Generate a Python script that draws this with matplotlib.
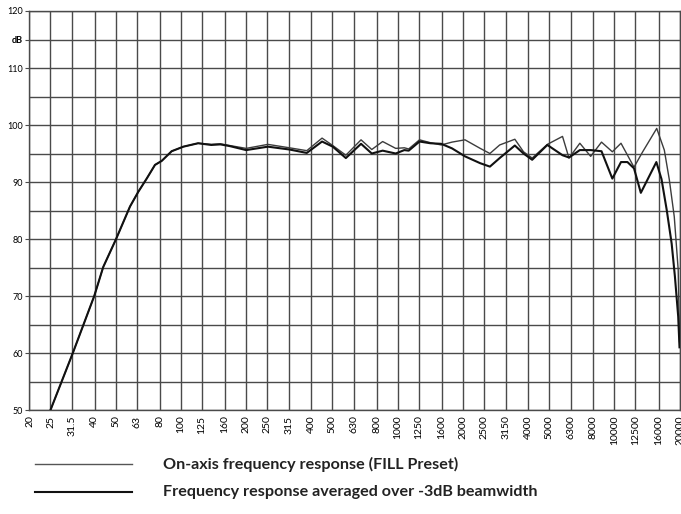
import matplotlib.pyplot as plt
from matplotlib.lines import Line2D

# third-octave bands shown on the x axis
band_freqs = [20, 25, 31.5, 40, 50, 63, 80, 100, 125, 160, 200, 250, 315, 400,
              500, 630, 800, 1000, 1250, 1600, 2000, 2500, 3150, 4000, 5000,
              6300, 8000, 10000, 12500, 16000, 20000]
band_labels = ["20", "25", "31.5", "40", "50", "63", "80", "100", "125", "160",
               "200", "250", "315", "400", "500", "630", "800", "1000", "1250",
               "1600", "2000", "2500", "3150", "4000", "5000", "6300", "8000",
               "10000", "12500", "16000", "20000"]

# on-axis response (FILL preset)
onaxis_hz = [25, 31.7, 39.8, 43.8, 50.2, 58.2, 63.6, 69.5, 75.9, 81.5, 90.6,
             102.6, 120, 138, 152, 168, 200, 252, 317, 381, 448, 502, 577,
             678, 760, 853, 980, 1074, 1125, 1262, 1416, 1589, 1783, 2047,
             2405, 2667, 2959, 3476, 3812, 4179, 4910, 5769, 6180, 6935, 7781,
             8731, 9796, 10741, 12333, 13523, 15700, 17020, 17950, 18920,
             19725, 20000]
onaxis_db = [50.0, 60.0, 70.0, 75.1, 80.0, 85.7, 88.3, 90.6, 93.0, 93.7, 95.4,
             96.2, 96.8, 96.6, 96.7, 96.4, 95.9, 96.6, 96.0, 95.5, 97.7, 96.4,
             94.7, 97.4, 95.7, 97.1, 95.9, 96.0, 95.8, 97.4, 96.9, 96.5, 97.0,
             97.4, 95.9, 95.0, 96.5, 97.5, 95.3, 94.2, 96.6, 98.0, 94.2, 96.8,
             94.5, 97.0, 95.3, 96.8, 92.6, 95.3, 99.4, 95.6, 90.4, 83.9, 74.6,
             62.0]

# response averaged over -3dB beamwidth
avg_hz = [25, 31.7, 39.8, 43.8, 50.2, 58.2, 63.6, 69.5, 75.9, 81.5, 90.6,
          102.6, 120, 138, 152, 168, 200, 252, 317, 381, 448, 502, 577, 678,
          760, 853, 980, 1074, 1125, 1262, 1416, 1589, 1783, 2047, 2405, 2667,
          2959, 3476, 3812, 4179, 4910, 5769, 6180, 6935, 7781, 8731, 9796,
          10741, 11500, 12333, 13260, 15640, 16520, 17460, 18400, 19050,
          19725, 20000]
avg_db = [50.0, 60.0, 70.0, 75.1, 80.0, 85.7, 88.3, 90.6, 93.0, 93.7, 95.4,
          96.2, 96.8, 96.5, 96.6, 96.3, 95.6, 96.2, 95.7, 95.1, 97.1, 96.2,
          94.2, 96.7, 95.0, 95.5, 95.0, 95.6, 95.5, 97.1, 96.8, 96.7, 95.9,
          94.5, 93.3, 92.7, 94.2, 96.4, 95.0, 93.9, 96.5, 94.7, 94.3, 95.6,
          95.6, 95.4, 90.6, 93.5, 93.5, 92.4, 88.1, 93.5, 90.5, 85.1, 79.2,
          73.4, 66.4, 61.0]

fig = plt.figure(figsize=(6.81, 5.14), dpi=100)
ax = fig.add_axes([0.0433, 0.2023, 0.9545, 0.7763])

grid_col = "#4a4a4a"
ax.set_xscale("log")
ax.set_xlim(20, 20000)
ax.set_ylim(50, 120)

for f in band_freqs:
    ax.axvline(f, color=grid_col, lw=1.0, zorder=1)
for y in range(50, 121, 5):
    ax.axhline(y, color=grid_col, lw=1.0, zorder=1)

ax.plot(onaxis_hz, onaxis_db, color="#3c3c3c", lw=1.0, zorder=3)
ax.plot(avg_hz, avg_db, color="#111111", lw=1.5, zorder=4)

ax.set_xticks(band_freqs)
ax.set_xticklabels(band_labels, rotation=90, fontsize=7.5, family="Lato",
                   va="top")
ax.xaxis.set_minor_locator(plt.NullLocator())
ax.tick_params(axis="x", length=0, pad=4)

ax.set_yticks([50, 60, 70, 80, 90, 100, 110, 115, 120])
ax.set_yticklabels(["50", "60", "70", "80", "90", "100", "110", "dB", "120"],
                   fontsize=6.5, family="Lato")
for lab in ax.get_yticklabels():
    if lab.get_text() == "dB":
        lab.set_fontweight("bold")
ax.tick_params(axis="y", length=3, width=0.8, pad=1.5, color=grid_col)

for s in ax.spines.values():
    s.set_color(grid_col)
    s.set_linewidth(1.0)

# legend drawn below the plot
fig.add_artist(Line2D([35 / 681, 132 / 681], [1 - 464 / 514, 1 - 464 / 514],
                      color="#555555", lw=1.0))
fig.add_artist(Line2D([35 / 681, 132 / 681], [1 - 492 / 514, 1 - 492 / 514],
                      color="#111111", lw=1.5))
fig.text(163 / 681, 1 - 464 / 514, "On-axis frequency response (FILL Preset)",
         fontsize=11.6, fontweight="bold", family="Lato", va="center",
         color="#222222")
fig.text(163 / 681, 1 - 492 / 514, "Frequency response averaged over -3dB beamwidth",
         fontsize=11.6, fontweight="bold", family="Lato", va="center",
         color="#222222")

fig.savefig("out.png", dpi=100)
